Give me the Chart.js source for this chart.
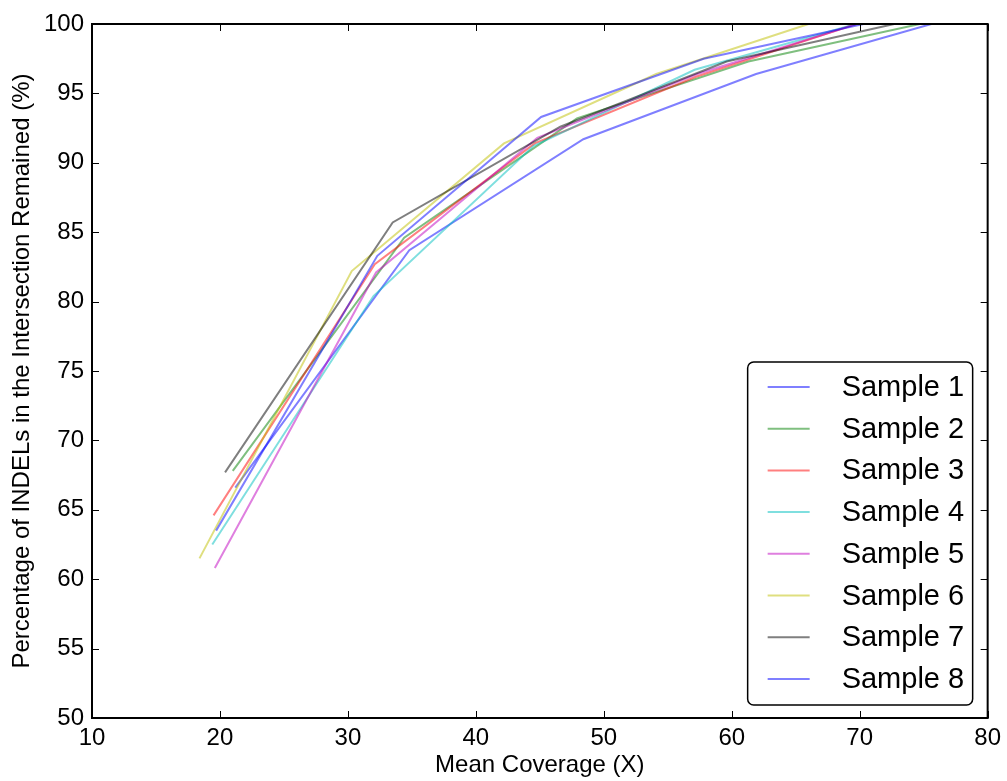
<!DOCTYPE html>
<html>
<head>
<meta charset="utf-8">
<script src="https://cdn.jsdelivr.net/npm/chart.js@4"></script>
<style>
  html, body { margin: 0; padding: 0; background: #fff; }
  #wrap { width: 1007px; height: 781px; }
</style>
</head>
<body>
<div id="wrap"><canvas id="coverageChart" width="1007" height="781"></canvas></div>
<script>
// series data
const sampleNames = ['Sample 1', 'Sample 2', 'Sample 3', 'Sample 4', 'Sample 5', 'Sample 6', 'Sample 7', 'Sample 8'];

const coverage1 = [21.2, 34.8, 48.4, 61.9, 75.6];
const remained1 = [66.6, 83.7, 91.7, 96.4, 100];
const coverage2 = [21.0, 34.4, 47.9, 61.3, 74.7];
const remained2 = [67.8, 84.6, 93.2, 97.3, 100];
const coverage3 = [19.5, 32.1, 44.6, 57.2, 69.7];
const remained3 = [64.6, 82.7, 91.4, 96.2, 100];
const coverage4 = [19.4, 32.0, 44.5, 57.1, 69.7];
const remained4 = [62.5, 80.4, 91.2, 96.7, 100];
const coverage5 = [19.6, 32.2, 44.8, 57.3, 69.8];
const remained5 = [60.8, 82.1, 91.8, 96.4, 100];
const coverage6 = [18.4, 30.3, 42.2, 54.1, 66.0];
const remained6 = [61.5, 82.2, 91.4, 96.4, 100];
const coverage7 = [20.4, 33.5, 46.6, 59.6, 72.7];
const remained7 = [67.7, 85.7, 92.6, 97.3, 100];
const coverage8 = [19.7, 32.3, 45.1, 57.8, 70.3];
const remained8 = [63.5, 83.3, 93.3, 97.5, 100];

const xTicks = [10, 20, 30, 40, 50, 60, 70, 80];
const yTicks = [50, 55, 60, 65, 70, 75, 80, 85, 90, 95, 100];

const coverages = [coverage1, coverage2, coverage3, coverage4, coverage5, coverage6, coverage7, coverage8];
const remaineds = [remained1, remained2, remained3, remained4, remained5, remained6, remained7, remained8];

// matplotlib classic b g r c m y k b, alpha 0.5
const lineColors = [
    'rgba(0, 0, 255, 0.5)',
    'rgba(0, 128, 0, 0.5)',
    'rgba(255, 0, 0, 0.5)',
    'rgba(0, 191, 191, 0.5)',
    'rgba(191, 0, 191, 0.5)',
    'rgba(191, 191, 0, 0.5)',
    'rgba(0, 0, 0, 0.5)',
    'rgba(0, 0, 255, 0.5)'
];

const FONT = "'Liberation Sans', Arial, sans-serif";

const datasets = sampleNames.map((name, i) => ({
    label: name,
    data: coverages[i].map((x, j) => ({ x: x, y: remaineds[i][j] })),
    borderColor: lineColors[i],
    backgroundColor: lineColors[i],
    borderWidth: 2,
    pointRadius: 0,
    tension: 0,
    fill: false,
    order: sampleNames.length - i
}));

// frame, inward ticks on all four sides, boxed legend
const frameAndLegend = {
    id: 'frameAndLegend',
    afterDatasetsDraw(chart) {
        const ctx = chart.ctx;
        const area = chart.chartArea;
        const xs = chart.scales.x;
        const ys = chart.scales.y;
        const tick = 7;

        ctx.save();
        ctx.strokeStyle = '#000';
        ctx.lineWidth = 1;
        xTicks.forEach(v => {
            const px = Math.round(xs.getPixelForValue(v)) + 0.5;
            ctx.beginPath();
            ctx.moveTo(px, area.bottom); ctx.lineTo(px, area.bottom - tick);
            ctx.moveTo(px, area.top); ctx.lineTo(px, area.top + tick);
            ctx.stroke();
        });
        yTicks.forEach(v => {
            const py = Math.round(ys.getPixelForValue(v)) + 0.5;
            ctx.beginPath();
            ctx.moveTo(area.left, py); ctx.lineTo(area.left + tick, py);
            ctx.moveTo(area.right, py); ctx.lineTo(area.right - tick, py);
            ctx.stroke();
        });

        ctx.lineWidth = 2;
        ctx.strokeRect(area.left, area.top, area.right - area.left, area.bottom - area.top);

        // legend box
        const boxRight = area.right - 15;
        const boxBottom = area.bottom - 13;
        const boxW = 225;
        const boxH = 343;
        const bx = boxRight - boxW;
        const by = boxBottom - boxH;
        ctx.beginPath();
        ctx.roundRect(bx, by, boxW, boxH, 6);
        ctx.fillStyle = '#fff';
        ctx.fill();
        ctx.lineWidth = 1.5;
        ctx.strokeStyle = '#000';
        ctx.stroke();

        ctx.font = '29px ' + FONT;
        ctx.textBaseline = 'middle';
        ctx.textAlign = 'left';
        sampleNames.forEach((name, i) => {
            const ly = by + 25 + i * 41.7;
            ctx.beginPath();
            ctx.strokeStyle = lineColors[i];
            ctx.lineWidth = 2;
            ctx.moveTo(bx + 20, ly);
            ctx.lineTo(bx + 62, ly);
            ctx.stroke();
            ctx.fillStyle = '#000';
            ctx.fillText(name, bx + 94, ly + 1);
        });
        ctx.restore();
    }
};

new Chart(document.getElementById('coverageChart'), {
    type: 'line',
    data: { datasets: datasets },
    options: {
        responsive: false,
        animation: false,
        layout: {
            padding: { left: 0, top: 24, right: 19, bottom: 0 }
        },
        plugins: {
            legend: { display: false },
            tooltip: { enabled: false }
        },
        scales: {
            x: {
                type: 'linear',
                min: 10,
                max: 80,
                afterFit: (scale) => { scale.height = 63; },
                afterBuildTicks: (scale) => { scale.ticks = xTicks.map(v => ({ value: v })); },
                grid: { display: false, drawTicks: false },
                border: { display: false },
                ticks: {
                    color: '#000',
                    padding: 6,
                    maxRotation: 0,
                    font: { family: FONT, size: 24 }
                },
                title: {
                    display: true,
                    text: 'Mean Coverage (X)',
                    color: '#000',
                    padding: { top: 0, bottom: 1 },
                    font: { family: FONT, size: 24 }
                }
            },
            y: {
                min: 50,
                max: 100,
                afterFit: (scale) => { scale.width = 92; },
                afterBuildTicks: (scale) => { scale.ticks = yTicks.map(v => ({ value: v })); },
                grid: { display: false, drawTicks: false },
                border: { display: false },
                ticks: {
                    color: '#000',
                    padding: 8,
                    font: { family: FONT, size: 24 }
                },
                title: {
                    display: true,
                    text: 'Percentage of INDELs in the Intersection Remained (%)',
                    color: '#000',
                    padding: { top: 8, bottom: 0 },
                    font: { family: FONT, size: 24 }
                }
            }
        }
    },
    plugins: [frameAndLegend]
});
</script>
</body>
</html>
